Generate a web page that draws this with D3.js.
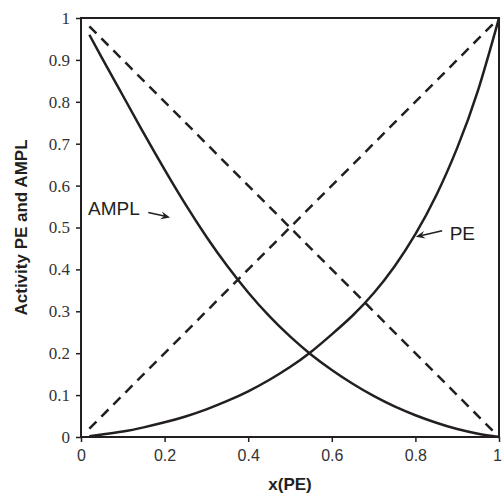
<!DOCTYPE html>
<html>
  <head>
    <meta charset="utf-8">
    <title></title>
    <script src="https://cdn.jsdelivr.net/npm/d3@7"></script>
    <style>
    body {margin:0; background:#fff;}
    </style>
  </head>
  <body>
    <svg id="svg1" width="502" height="495"></svg>
    <script>
    // data
    var xs = [0.02,0.05,0.1,0.15,0.2,0.25,0.3,0.35,0.4,0.45,0.5,0.55,0.6,0.65,0.7,0.75,0.8,0.85,0.9,0.95,1.0];
    var amplAct = [0.96,0.905,0.815,0.725,0.638,0.555,0.478,0.408,0.345,0.289,0.24,0.197,0.16,0.127,0.098,0.073,0.052,0.034,0.019,0.008,0];
    var peAct = [0.002,0.006,0.013,0.023,0.035,0.049,0.066,0.086,0.109,0.136,0.167,0.203,0.245,0.29,0.343,0.407,0.484,0.577,0.69,0.828,1];
    var idealX = [0.02, 1];
    var idealPE = [0.02, 1];
    var idealAMPL = [0.98, 0];
    var xTicks = [0,0.2,0.4,0.6,0.8,1];
    var yTicks = [0,0.1,0.2,0.3,0.4,0.5,0.6,0.7,0.8,0.9,1];

    (function(){
    var svg = d3.select('#svg1');
    var mL = 81, mR = 499, mT = 18, mB = 437;
    var x = d3.scaleLinear().domain([0,1]).range([mL,mR]);
    var y = d3.scaleLinear().domain([0,1]).range([mB,mT]);
    var ink = '#231f20';

    var line = d3.line().x(function(d){return x(d[0]);}).y(function(d){return y(d[1]);});
    var curve = d3.line().x(function(d){return x(d[0]);}).y(function(d){return y(d[1]);}).curve(d3.curveNatural);

    // dashed ideal lines
    [idealPE, idealAMPL].forEach(function(s){
      svg.append('path')
        .attr('d', line(d3.zip(idealX, s)))
        .attr('fill','none').attr('stroke',ink)
        .attr('stroke-width',2.5).attr('stroke-dasharray','10,7');
    });
    // activity curves
    [amplAct, peAct].forEach(function(s){
      svg.append('path')
        .attr('d', curve(d3.zip(xs, s)))
        .attr('fill','none').attr('stroke',ink).attr('stroke-width',2.5);
    });

    // frame
    svg.append('rect').attr('x',mL).attr('y',mT)
      .attr('width',mR-mL).attr('height',mB-mT)
      .attr('fill','none').attr('stroke',ink).attr('stroke-width',2);

    // axes
    var xAxis = svg.append('g').attr('transform','translate(0,'+mB+')')
      .call(d3.axisBottom(x).tickValues(xTicks).tickSize(5).tickPadding(8).tickFormat(d3.format('~g')));
    xAxis.select('.domain').remove();
    xAxis.selectAll('line').attr('stroke',ink).attr('stroke-width',1.5);
    xAxis.selectAll('text').attr('font-family','Liberation Sans, Arial, sans-serif')
      .attr('font-size',16).attr('fill','#333');
    xAxis.selectAll('text').filter(function(d){return d===1;}).attr('dx',-2);

    var yAxis = svg.append('g').attr('transform','translate('+mL+',0)')
      .call(d3.axisLeft(y).tickValues(yTicks).tickSize(5).tickPadding(6).tickFormat(d3.format('~g')));
    yAxis.select('.domain').remove();
    yAxis.selectAll('line').attr('stroke',ink).attr('stroke-width',1.5);
    yAxis.selectAll('text').attr('font-family','Liberation Serif, Times New Roman, serif')
      .attr('font-size',17).attr('fill','#333');

    // titles
    svg.append('text').attr('x',(mL+mR)/2).attr('y',490)
      .attr('text-anchor','middle').attr('font-family','Liberation Sans, Arial, sans-serif')
      .attr('font-weight','bold').attr('font-size',17).attr('fill',ink).text('x(PE)');
    svg.append('text').attr('transform','translate(27,'+((mT+mB)/2)+') rotate(-90)')
      .attr('text-anchor','middle').attr('font-family','Liberation Sans, Arial, sans-serif')
      .attr('font-weight','bold').attr('font-size',17).attr('fill',ink).text('Activity PE and AMPL');

    // annotations with arrows
    var notes = [
      {label:'AMPL', tx:0.017, ty:0.53, from:[0.161,0.536], to:[0.213,0.524]},
      {label:'PE', tx:0.882, ty:0.47, from:[0.864,0.492], to:[0.801,0.478]}
    ];
    notes.forEach(function(n){
      svg.append('text').attr('x',x(n.tx)).attr('y',y(n.ty))
        .attr('font-family','Liberation Sans, Arial, sans-serif')
        .attr('font-size',19).attr('fill',ink).text(n.label);
      var x1=x(n.from[0]), y1=y(n.from[1]), x2=x(n.to[0]), y2=y(n.to[1]);
      var a=Math.atan2(y2-y1,x2-x1), L=10, w=0.4;
      svg.append('line').attr('x1',x1).attr('y1',y1)
        .attr('x2',x2-6*Math.cos(a)).attr('y2',y2-6*Math.sin(a))
        .attr('stroke',ink).attr('stroke-width',1.5);
      svg.append('path')
        .attr('d','M'+x2+','+y2+
          'L'+(x2-L*Math.cos(a-w))+','+(y2-L*Math.sin(a-w))+
          'L'+(x2-0.6*L*Math.cos(a))+','+(y2-0.6*L*Math.sin(a))+
          'L'+(x2-L*Math.cos(a+w))+','+(y2-L*Math.sin(a+w))+'Z')
        .attr('fill',ink);
    });
    })();
    </script>
  </body>
</html>
